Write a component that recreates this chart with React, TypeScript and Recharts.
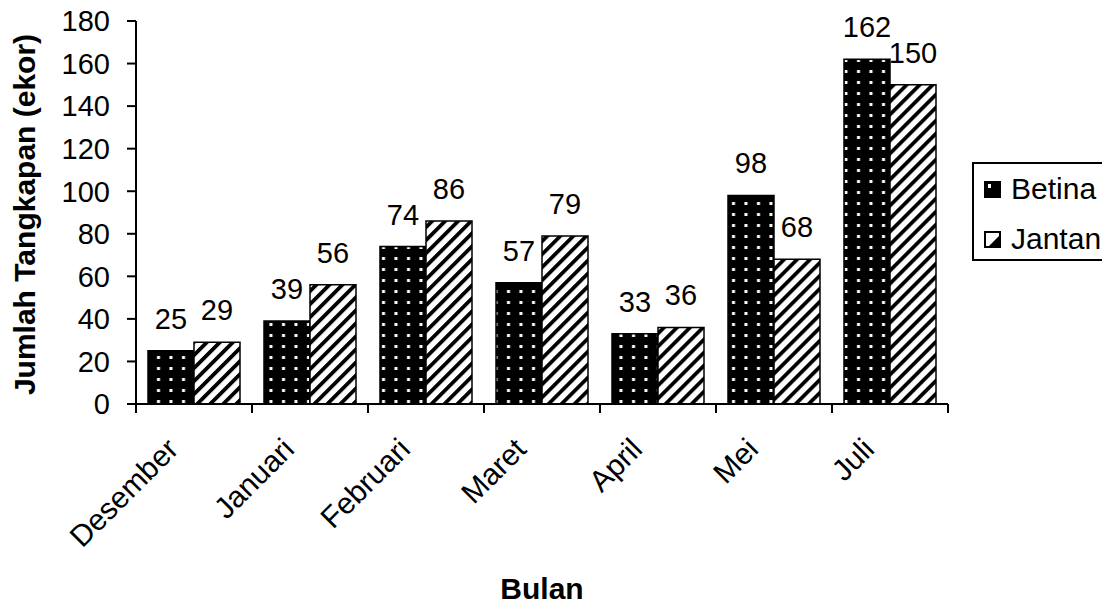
import React from 'react';
import { BarChart, Bar, XAxis, YAxis, Legend, LabelList, Label } from 'recharts';

const categories = ['Desember', 'Januari', 'Februari', 'Maret', 'April', 'Mei', 'Juli'];
const betina = [25, 39, 74, 57, 33, 98, 162];
const jantan = [29, 56, 86, 79, 36, 68, 150];
const yTicks = [0, 20, 40, 60, 80, 100, 120, 140, 160, 180];

const data = categories.map((bulan, i) => ({ bulan, Betina: betina[i], Jantan: jantan[i] }));

const FONT = '"Liberation Sans", Arial, sans-serif';

const XTick = (props: any) => {
  const { x, y, payload, index, visibleTicksCount } = props;
  const half = payload && payload.offset ? payload.offset : 58;
  const tx = x - 14;
  const ty = y + 47;
  return (
    <g>
      <line x1={x - half} y1={y} x2={x - half} y2={y + 9} stroke="#000" strokeWidth={2} />
      {index === visibleTicksCount - 1 && (
        <line x1={x + half} y1={y} x2={x + half} y2={y + 9} stroke="#000" strokeWidth={2} />
      )}
      <text
        x={tx}
        y={ty}
        textAnchor="end"
        fontSize={30}
        fontFamily={FONT}
        fill="#000"
        transform={`rotate(-45, ${tx}, ${ty})`}
      >
        {payload.value}
      </text>
    </g>
  );
};

const YTitle = (props: any) => {
  const vb = props.viewBox || { x: 0, y: 21, width: 136, height: 384 };
  const cx = vb.x + 35;
  const cy = vb.y + vb.height / 2 + 2;
  return (
    <text
      x={cx}
      y={cy}
      textAnchor="middle"
      fontSize={30}
      fontWeight="bold"
      fontFamily={FONT}
      fill="#000"
      transform={`rotate(-90, ${cx}, ${cy})`}
    >
      Jumlah Tangkapan (ekor)
    </text>
  );
};

const XTitle = (props: any) => {
  const vb = props.viewBox || { x: 136, y: 404, width: 812, height: 195 };
  return (
    <text
      x={vb.x + vb.width / 2}
      y={vb.y + 195}
      textAnchor="middle"
      fontSize={30}
      fontWeight="bold"
      fontFamily={FONT}
      fill="#000"
    >
      Bulan
    </text>
  );
};

const LegendIcon = ({ name }: { name: string }) =>
  name === 'Betina' ? (
    <svg width={17} height={17} style={{ display: 'block' }}>
      <rect x={0} y={0} width={17} height={17} fill="#000" />
      <rect x={4} y={3} width={3} height={4} fill="#fff" />
    </svg>
  ) : (
    <svg width={17} height={17} style={{ display: 'block' }}>
      <rect x={1} y={1} width={15} height={15} fill="#fff" stroke="#000" strokeWidth={2} />
      <polygon points="5,15 15,5 15,15" fill="#000" />
    </svg>
  );

const LegendBox = (props: any) => {
  const items = (props.payload || []).map((p: any) => p.value);
  return (
    <div
      style={{
        position: 'relative',
        width: 150,
        height: 99,
        boxSizing: 'border-box',
        border: '2px solid #000',
        background: '#fff',
        fontFamily: FONT,
        fontSize: 30,
        color: '#000',
      }}
    >
      {items.map((name: string, i: number) => (
        <div
          key={name}
          style={{ position: 'absolute', left: 10, top: 10 + i * 50, display: 'flex', alignItems: 'center', height: 30 }}
        >
          <LegendIcon name={name} />
          <span style={{ marginLeft: 10, lineHeight: '30px', whiteSpace: 'nowrap' }}>{name}</span>
        </div>
      ))}
    </div>
  );
};

export default function App() {
  return (
    <div style={{ position: 'absolute', left: 0, top: 0, width: 1102, height: 605, overflow: 'hidden', background: '#fff' }}>
      <BarChart
        width={1102}
        height={605}
        data={data}
        margin={{ top: 21, right: 154, bottom: 6, left: 0 }}
        barCategoryGap={12}
        barGap={0}
      >
        <defs>
          <pattern id="dots" patternUnits="userSpaceOnUse" width={12.5} height={11} x={2} y={0}>
            <rect x={0} y={0} width={12.5} height={11} fill="#000" />
            <rect x={5} y={4} width={3} height={3} fill="#fff" />
          </pattern>
          <pattern id="stripes" patternUnits="userSpaceOnUse" width={9.2} height={9.2} patternTransform="rotate(45)">
            <rect x={0} y={0} width={9.2} height={9.2} fill="#fff" />
            <rect x={0} y={0} width={3.8} height={9.2} fill="#000" />
          </pattern>
        </defs>
        <XAxis
          dataKey="bulan"
          height={195}
          tickLine={false}
          tickSize={0}
          tickMargin={0}
          axisLine={{ stroke: '#000', strokeWidth: 2 }}
          tick={<XTick />}
          interval={0}
        >
          <Label content={<XTitle />} />
        </XAxis>
        <YAxis
          width={136}
          domain={[0, 180]}
          ticks={yTicks}
          interval={0}
          tickSize={9}
          tickMargin={17}
          axisLine={{ stroke: '#000', strokeWidth: 2 }}
          tickLine={{ stroke: '#000', strokeWidth: 2 }}
          tick={{ fill: '#000', fontSize: 29, fontFamily: FONT }}
        >
          <Label content={<YTitle />} />
        </YAxis>
        <Legend
          layout="vertical"
          align="center"
          verticalAlign="middle"
          content={<LegendBox />}
          wrapperStyle={{ position: 'absolute', left: 972, top: 162, width: 150, height: 99 }}
        />
        <Bar dataKey="Betina" fill="url(#dots)" stroke="#000" strokeWidth={1.5} isAnimationActive={false}>
          <LabelList dataKey="Betina" position="top" offset={22} fill="#000" fontSize={29} fontFamily={FONT} />
        </Bar>
        <Bar dataKey="Jantan" fill="url(#stripes)" stroke="#000" strokeWidth={1.5} isAnimationActive={false}>
          <LabelList dataKey="Jantan" position="top" offset={22} fill="#000" fontSize={29} fontFamily={FONT} />
        </Bar>
      </BarChart>
    </div>
  );
}
